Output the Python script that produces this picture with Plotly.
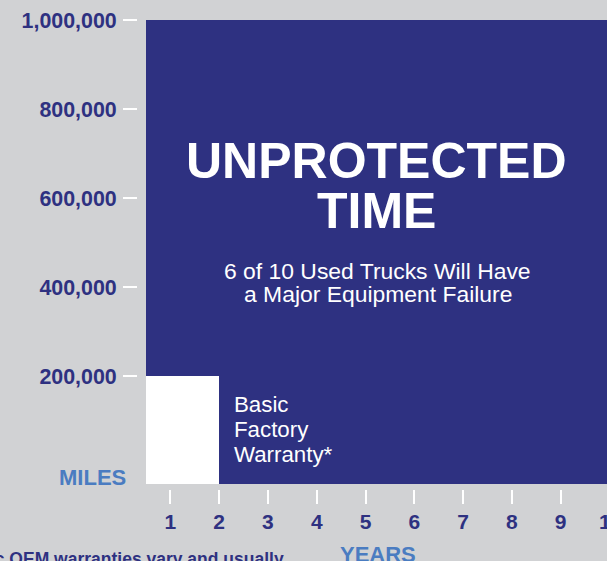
import plotly.graph_objects as go

# ---- data ----
segments = ["Unprotected Time", "Basic Factory Warranty"]
seg_year_start = [0.5, 0.5]
seg_year_end = [10, 2]
seg_miles_top = [1_000_000, 200_000]
axis_floor = -42_700

year_ticks = [1, 2, 3, 4, 5, 6, 7, 8, 9]
year_labels = ["1", "2", "3", "4", "5", "6", "7", "8", "9"]
last_year_label = "10"
mile_ticks = [200_000, 400_000, 600_000, 800_000, 1_000_000]
mile_labels = ["200,000", "400,000", "600,000", "800,000", "1,000,000"]

headline_lines = ["UNPROTECTED", "TIME"]
sub_lines = ["6 of 10 Used Trucks Will Have", "a Major Equipment Failure"]
warranty_lines = ["Basic", "Factory", "Warranty*"]

NAVY = "#2e3181"
LIGHT = "#4a7cc1"
BG = "#d1d2d4"
FONT = "Liberation Sans, Arial, sans-serif"

fill_colors = [NAVY, "#ffffff"]

fig = go.Figure()
for name, x0, x1, top, col in zip(segments, seg_year_start, seg_year_end, seg_miles_top, fill_colors):
    fig.add_trace(go.Bar(
        x=[(x0 + x1) / 2], width=[x1 - x0], base=[axis_floor], y=[top - axis_floor],
        marker=dict(color=col, line=dict(width=0)), name=name, showlegend=False,
        hoverinfo="skip",
    ))

fig.update_layout(
    width=607, height=561,
    margin=dict(l=137, r=0, t=20, b=72),
    paper_bgcolor=BG, plot_bgcolor=BG,
    barmode="overlay", bargap=0,
    font=dict(family=FONT, color=NAVY),
    xaxis=dict(
        domain=[9 / 470, 1], anchor="free", position=0,
        range=[0.5, 9.95], showgrid=False, zeroline=False, showline=False,
        tickvals=year_ticks, ticktext=year_labels,
        ticks="outside", ticklen=14, tickwidth=2, tickcolor="#ffffff",
        tickfont=dict(size=21, family=FONT, color=NAVY, weight="bold"),
        ticklabelstandoff=0,
    ),
    yaxis=dict(
        domain=[5 / 469, 1], anchor="free", position=0,
        range=[axis_floor, 1_000_000], showgrid=False, zeroline=False, showline=False,
        tickvals=mile_ticks, ticktext=mile_labels,
        ticks="outside", ticklen=14, tickwidth=2, tickcolor="#ffffff",
        tickfont=dict(size=21.4, family=FONT, color=NAVY, weight="bold"),
        ticklabelstandoff=2,
    ),
)

ann = []
for txt, yv in zip(headline_lines, [683_000, 570_000]):
    ann.append(dict(text=txt, x=5.23, y=yv, xref="x", yref="y", showarrow=False,
                    font=dict(size=50, color="white", family=FONT, weight="bold")))
for txt, yv in zip(sub_lines, [437_000, 383_800]):
    ann.append(dict(text=txt, x=5.25, y=yv, xref="x", yref="y", showarrow=False,
                    font=dict(size=22.9, color="white", family=FONT)))
for txt, yv in zip(warranty_lines, [135_300, 79_100, 24_300]):
    ann.append(dict(text=txt, x=2.263, y=yv, xref="x", yref="y",
                    xanchor="left", align="left", showarrow=False,
                    font=dict(size=22.3, color="white", family=FONT)))
ann.append(dict(text="MILES", x=-0.0191, y=0.0235, xref="paper", yref="paper",
                xanchor="right", yanchor="middle", showarrow=False,
                font=dict(size=22, color=LIGHT, family=FONT, weight="bold")))
ann.append(dict(text="YEARS", x=0.513, y=-0.1087, xref="paper", yref="paper",
                xanchor="center", yanchor="top", showarrow=False,
                font=dict(size=22, color=LIGHT, family=FONT, weight="bold")))
ann.append(dict(text=last_year_label, x=1.0064, y=-0.0695, xref="paper", yref="paper",
                xanchor="center", yanchor="middle", showarrow=False,
                font=dict(size=21, color=NAVY, family=FONT, weight="bold")))
ann.append(dict(text="*Basic OEM warranties vary and usually", x=0.317, y=-0.1237,
                xref="paper", yref="paper", xanchor="right", yanchor="top", showarrow=False,
                font=dict(size=17.5, color=NAVY, family=FONT, weight="bold")))
fig.update_layout(annotations=ann)

fig.write_html("out.html", config={"displayModeBar": False},
               post_script="document.body.style.margin='0';document.body.style.overflow='hidden';")
